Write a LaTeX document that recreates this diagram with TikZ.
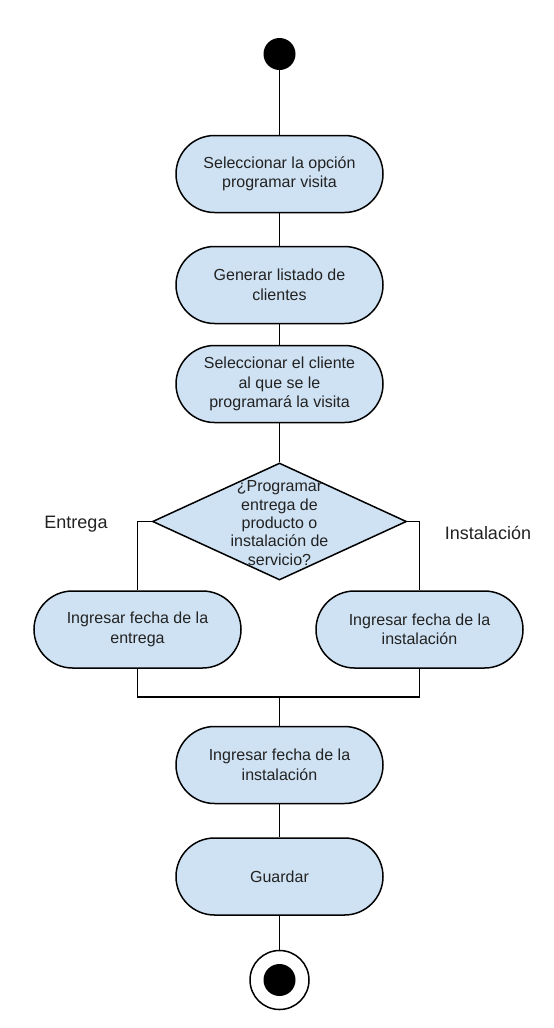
\documentclass[tikz,border=0pt]{standalone}
\usepackage{fontspec}
\setmainfont{Liberation Sans}
\usetikzlibrary{shapes.geometric}
\definecolor{boxfill}{HTML}{CFE2F3}
\definecolor{txt}{HTML}{222222}
\begin{document}
\begin{tikzpicture}[x=1pt,y=-1pt,
  every node/.style={text=txt},
  act/.style={draw=black, fill=boxfill, line width=1.5pt, rectangle, rounded corners=38.5pt,
    minimum width=207pt, minimum height=77pt, inner sep=0pt, align=center,
    font=\fontsize{16pt}{19.5pt}\selectfont},
  dec/.style={draw=black, fill=boxfill, line width=1.5pt, diamond, inner sep=0pt,
    minimum width=254pt, minimum height=117pt},
  conn/.style={draw=black, line width=1.5pt},
  lbl/.style={font=\fontsize{18pt}{21pt}\selectfont}]
\useasboundingbox[fill=white] (0,0) rectangle (554,1028);

\node[circle, fill=black, minimum size=32pt, inner sep=0pt] (start) at (279.5,54) {};
\node[act] (b1) at (279.5,174) {Seleccionar la opción\\programar visita};
\node[act] (b2) at (279.5,285) {Generar listado de\\clientes};
\node[act] (b3) at (279.5,384) {Seleccionar el cliente\\al que se le\\programará la visita};
\node[dec] (d) at (279.5,521.5) {};
\node[align=center, font=\fontsize{16pt}{18.4pt}\selectfont] (dt) at (279.5,523)
  {¿Programar\\entrega de\\producto o\\instalación de\\servicio?};
\node[act] (lb) at (137.5,629.5) {Ingresar fecha de la\\entrega};
\node[act] (rb) at (419.5,629.5) {Ingresar fecha de la\\instalación};
\coordinate (j) at (279.5,697);
\node[act] (b4) at (279.5,765) {Ingresar fecha de la\\instalación};
\node[act] (g) at (279.5,876.5) {Guardar};
\node[circle, draw=black, line width=1.5pt, fill=white, minimum size=59pt, inner sep=0pt] (endo) at (279.5,980) {};
\node[circle, fill=black, minimum size=32pt, inner sep=0pt] (endi) at (endo) {};

\node[lbl] (le) at (76,524) {Entrega};
\node[lbl] (ri) at (488,533) {Instalación};

\draw[conn] (start) -- (b1);
\draw[conn] (b1) -- (b2);
\draw[conn] (b2) -- (b3);
\draw[conn] (b3) -- (d);
\draw[conn] (d.west) -| (lb.north);
\draw[conn] (d.east) -| (rb.north);
\draw[conn] (lb.south) |- (j);
\draw[conn] (rb.south) |- (j);
\draw[conn] (j) -- (b4);
\draw[conn] (b4) -- (g);
\draw[conn] (g) -- (endo);
\end{tikzpicture}
\end{document}
